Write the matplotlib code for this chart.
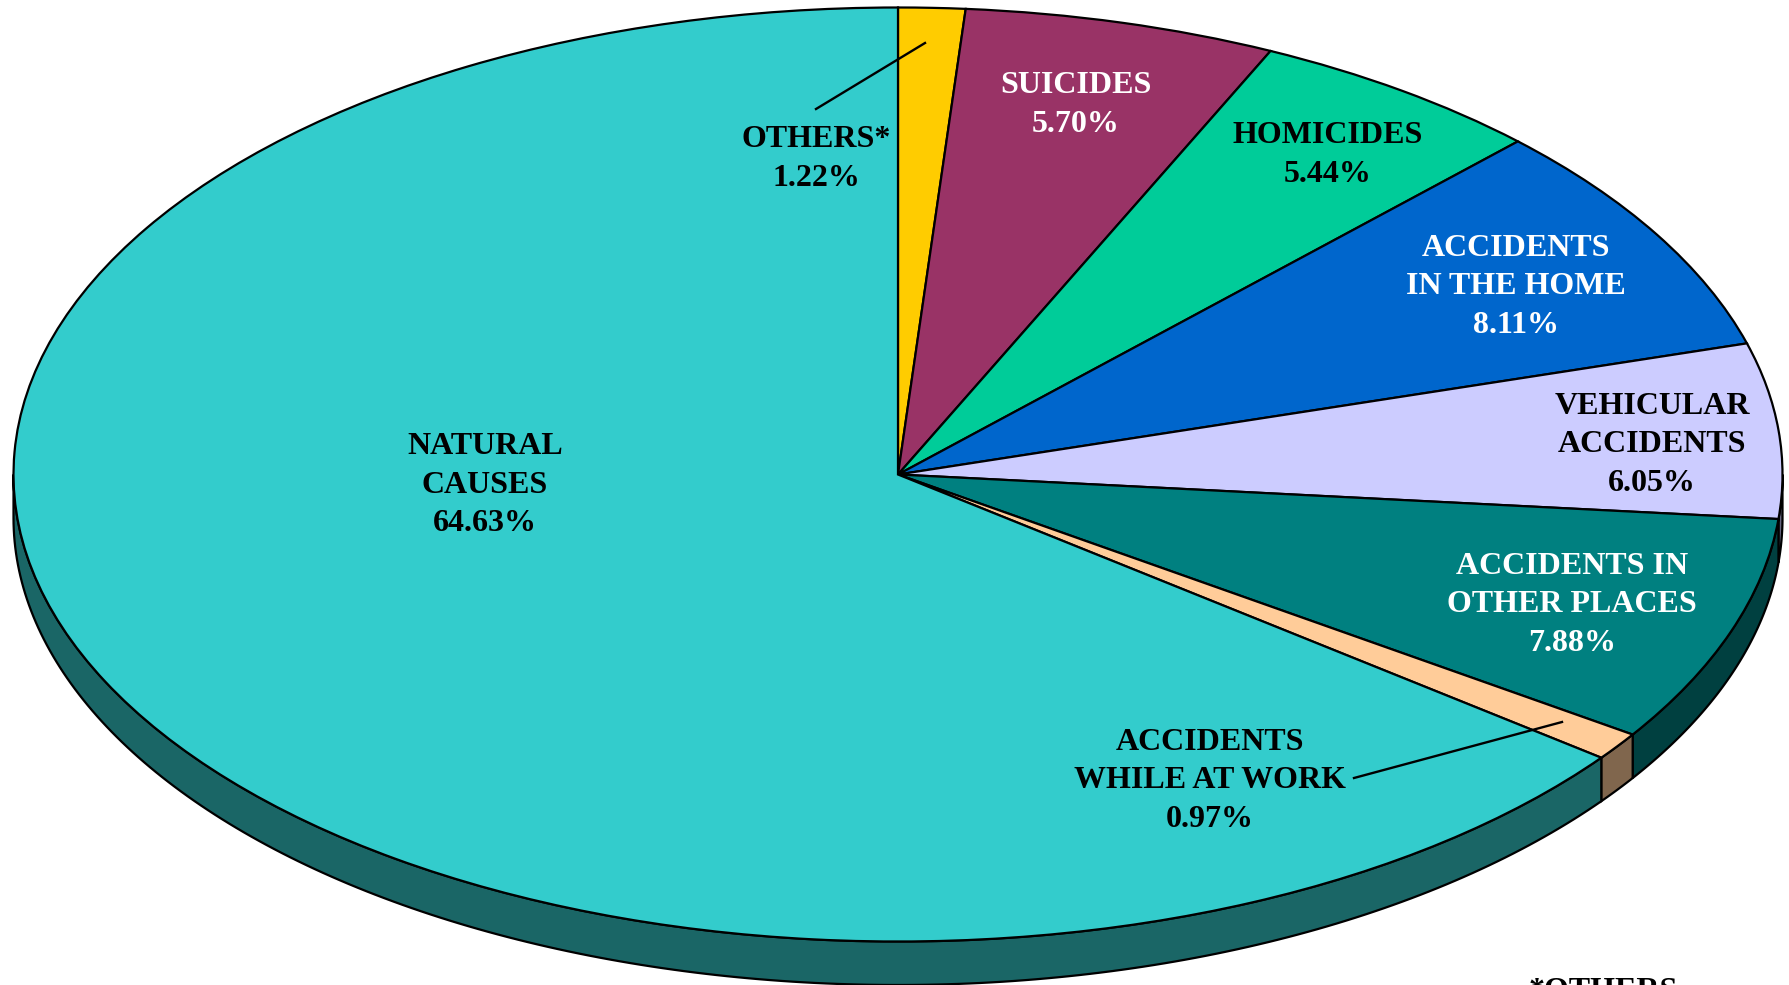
import numpy as np
import matplotlib
matplotlib.use("Agg")
import matplotlib.pyplot as plt

W, H = 1790, 985

# clockwise from 12 o'clock
names = ["OTHERS*", "SUICIDES", "HOMICIDES", "ACCIDENTS\nIN THE HOME", "VEHICULAR\nACCIDENTS",
         "ACCIDENTS IN\nOTHER PLACES", "ACCIDENTS\nWHILE AT WORK", "NATURAL\nCAUSES"]
percent = [1.22, 5.70, 5.44, 8.11, 6.05, 7.88, 0.97, 64.63]
top_colors = ["#FFCC00", "#993366", "#00CC99", "#0066CC", "#CCCCFF", "#008080", "#FFCC99", "#33CCCC"]
side_colors = ["#806600", "#4D1A33", "#00664D", "#003366", "#666680", "#004040", "#80664D", "#1A6666"]
text_colors = ["#000000", "#FFFFFF", "#000000", "#FFFFFF", "#000000", "#FFFFFF", "#000000", "#000000"]

# label centres, in pixels of the 1790x985 picture
label_x = [816, 1076, 1328, 1516, 1652, 1572, 1210, 485]
label_y = [159, 105, 155, 287, 445, 605, 781, 485]

CX, CY = 898, 474.5
RX, RY = 884.5, 467
DEPTH = 43.5 / RY
LW = 1.6


def to_data(px, py):
    return (px - CX) / RX, (CY - py) / RY


fig = plt.figure(figsize=(W / 100, H / 100), dpi=100)
ax = fig.add_axes([0, 0, 1, 1])

ax.pie(percent, colors=top_colors, startangle=90, counterclock=False, radius=1, center=(0, 0),
       wedgeprops={"edgecolor": "black", "linewidth": LW, "zorder": 3})
ax.set_aspect("auto")
ax.set_xlim(to_data(0, 0)[0], to_data(W, 0)[0])
ax.set_ylim(to_data(0, H)[1], to_data(0, 0)[1])
ax.axis("off")

# side wall, only the front half of the disc shows
edges = np.cumsum([0] + percent) * 3.6
for i in range(len(percent)):
    a = max(edges[i], 90)
    b = min(edges[i + 1], 270)
    if b <= a:
        continue
    t = np.radians(np.linspace(a, b, 200))
    x = np.sin(t)
    y = np.cos(t)
    ax.fill(np.r_[x, x[::-1]], np.r_[y, y[::-1] - DEPTH], facecolor=side_colors[i],
            edgecolor="black", linewidth=LW, zorder=2, clip_on=False)

font = {"family": "Liberation Serif", "weight": "bold", "size": 23}
for name, val, c, px, py in zip(names, percent, text_colors, label_x, label_y):
    fig.text(px / W, 1 - py / H, f"{name}\n{val:.2f}%", color=c, ha="center", va="center",
             multialignment="center", linespacing=1.42, **font)

fig.text(1603 / W, 1 - 977 / H, "*OTHERS", color="black", ha="center", va="top", **font)

# leader lines
for (x0, y0), (x1, y1) in [((925, 43), (816, 109)), ((1562, 722), (1354, 778))]:
    p0 = to_data(x0, y0)
    p1 = to_data(x1, y1)
    ax.plot([p0[0], p1[0]], [p0[1], p1[1]], color="black", linewidth=1.7, zorder=5)

fig.savefig("out.png", dpi=100)
